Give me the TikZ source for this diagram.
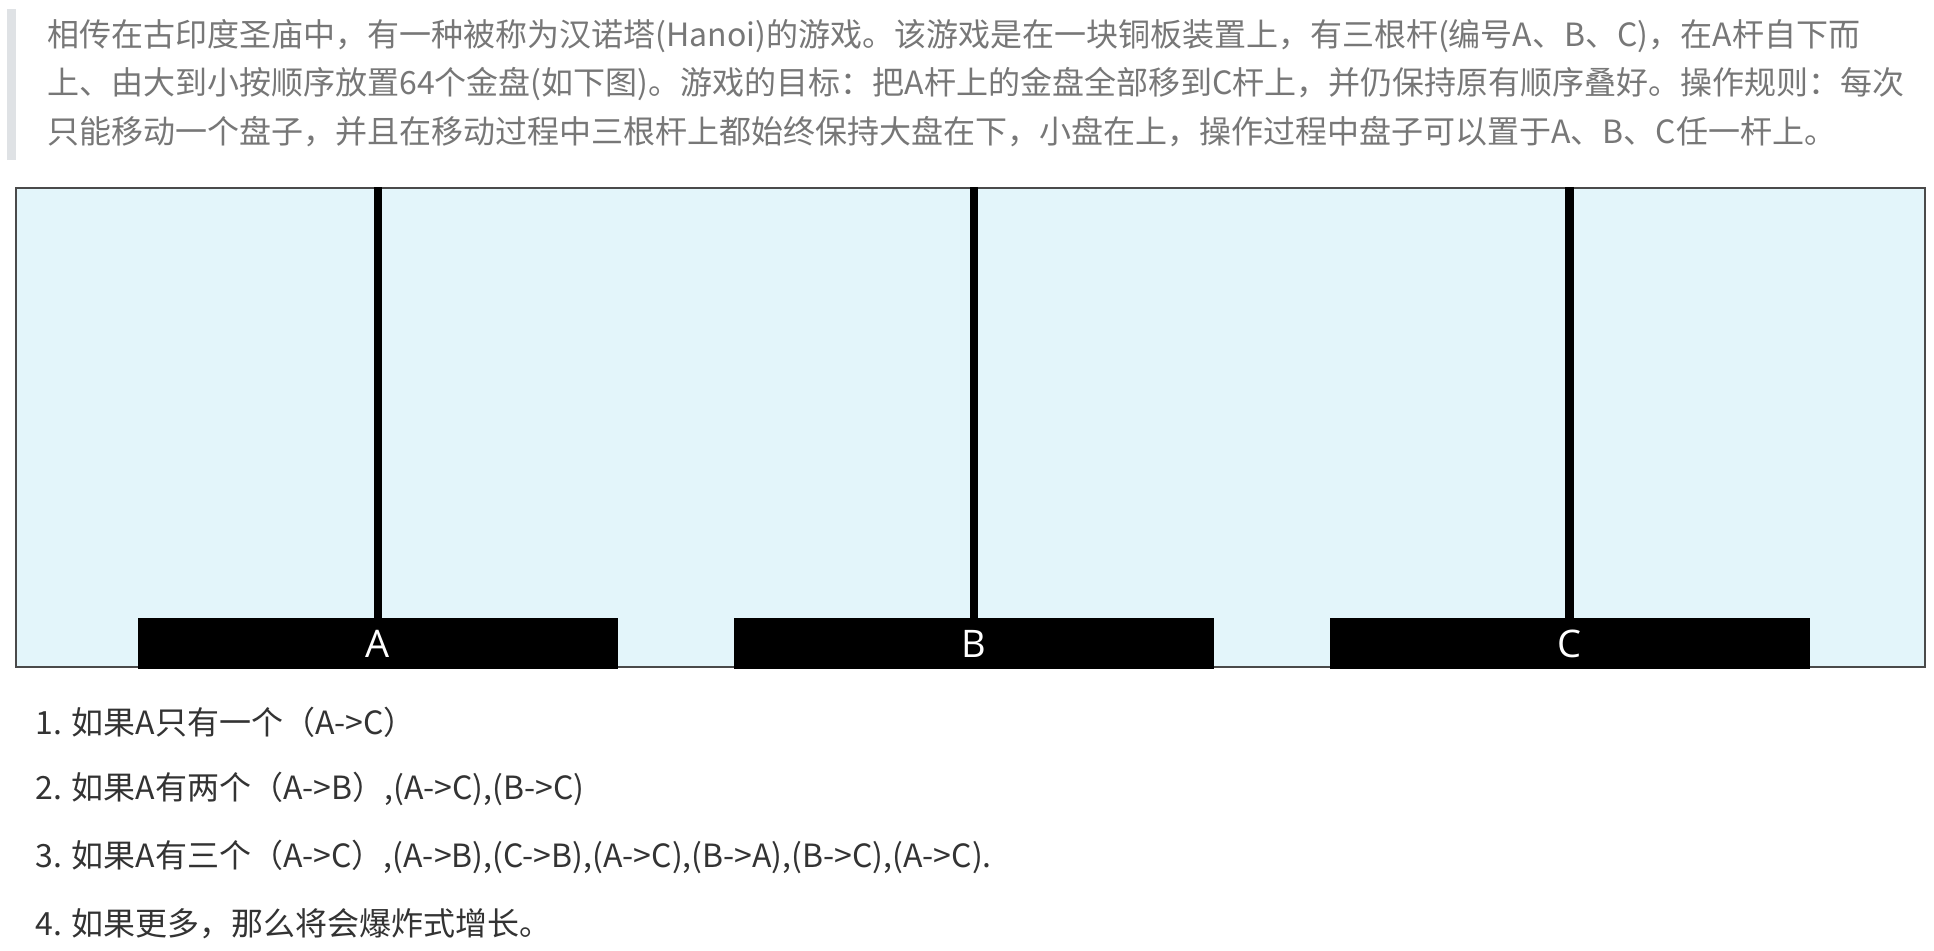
\documentclass[tikz,border=0pt]{standalone}
\usepackage{fontspec}
\setmainfont{Noto Sans CJK SC}
\newfontfamily\pegfont{Open Sans}
\usetikzlibrary{positioning}
\definecolor{quotebar}{HTML}{DFE2E5}
\definecolor{quotetext}{HTML}{777777}
\definecolor{boardfill}{HTML}{E3F5FA}
\definecolor{boardline}{HTML}{4A4A4A}
\definecolor{listtext}{HTML}{333333}

\begin{document}
\begin{tikzpicture}[x=0.5pt,y=-0.5pt,
    quote/.style={anchor=west,inner sep=0pt,text=quotetext,font=\fontsize{16}{16}\selectfont},
    item/.style={anchor=west,inner sep=0pt,text=listtext,font=\fontsize{16}{16}\selectfont},
    base/.style={fill=black,minimum width=240pt,minimum height=25.5pt,inner sep=0pt,text=white,font=\pegfont\fontsize{19}{19}\selectfont},
    pole/.style={line width=4.25pt}]
  \useasboundingbox[fill=white] (0,0) rectangle (1934,950);
  % quoted intro
  \fill[quotebar] (7,9) rectangle (16,160);
  \node[quote] (line1) at (47,36) {相传在古印度圣庙中，有一种被称为汉诺塔(Hanoi)的游戏。该游戏是在一块铜板装置上，有三根杆(编号A、B、C)，在A杆自下而};
  \node[quote] (line2) at (47,84) {上、由大到小按顺序放置64个金盘(如下图)。游戏的目标：把A杆上的金盘全部移到C杆上，并仍保持原有顺序叠好。操作规则：每次};
  \node[quote] (line3) at (47,132) {只能移动一个盘子，并且在移动过程中三根杆上都始终保持大盘在下，小盘在上，操作过程中盘子可以置于A、B、C任一杆上。};
  % board with three pegs
  \node[draw=boardline,line width=1pt,fill=boardfill,minimum width=954.5pt,minimum height=239.5pt,inner sep=0pt] (board) at (970.5,427.5) {};
  \node[base] (baseA) at (378,643.5) {A};
  \node[base] (baseB) at (974,643.5) {B};
  \node[base] (baseC) at (1569.5,643.5) {C};
  \draw[pole] (baseA.north) -- (baseA.north |- board.north);
  \draw[pole] (baseB.north) -- (baseB.north |- board.north);
  \draw[pole] (baseC.north) -- (baseC.north |- board.north);
  % cases
  \node[item] (case1) at (35,722) {1. 如果A只有一个（A->C）};
  \node[item] (case2) at (35,789) {2. 如果A有两个（A->B）,(A->C),(B->C)};
  \node[item] (case3) at (35,857) {3. 如果A有三个（A->C）,(A->B),(C->B),(A->C),(B->A),(B->C),(A->C).};
  \node[item] (case4) at (35,924) {4. 如果更多，那么将会爆炸式增长。};
\end{tikzpicture}
\end{document}
